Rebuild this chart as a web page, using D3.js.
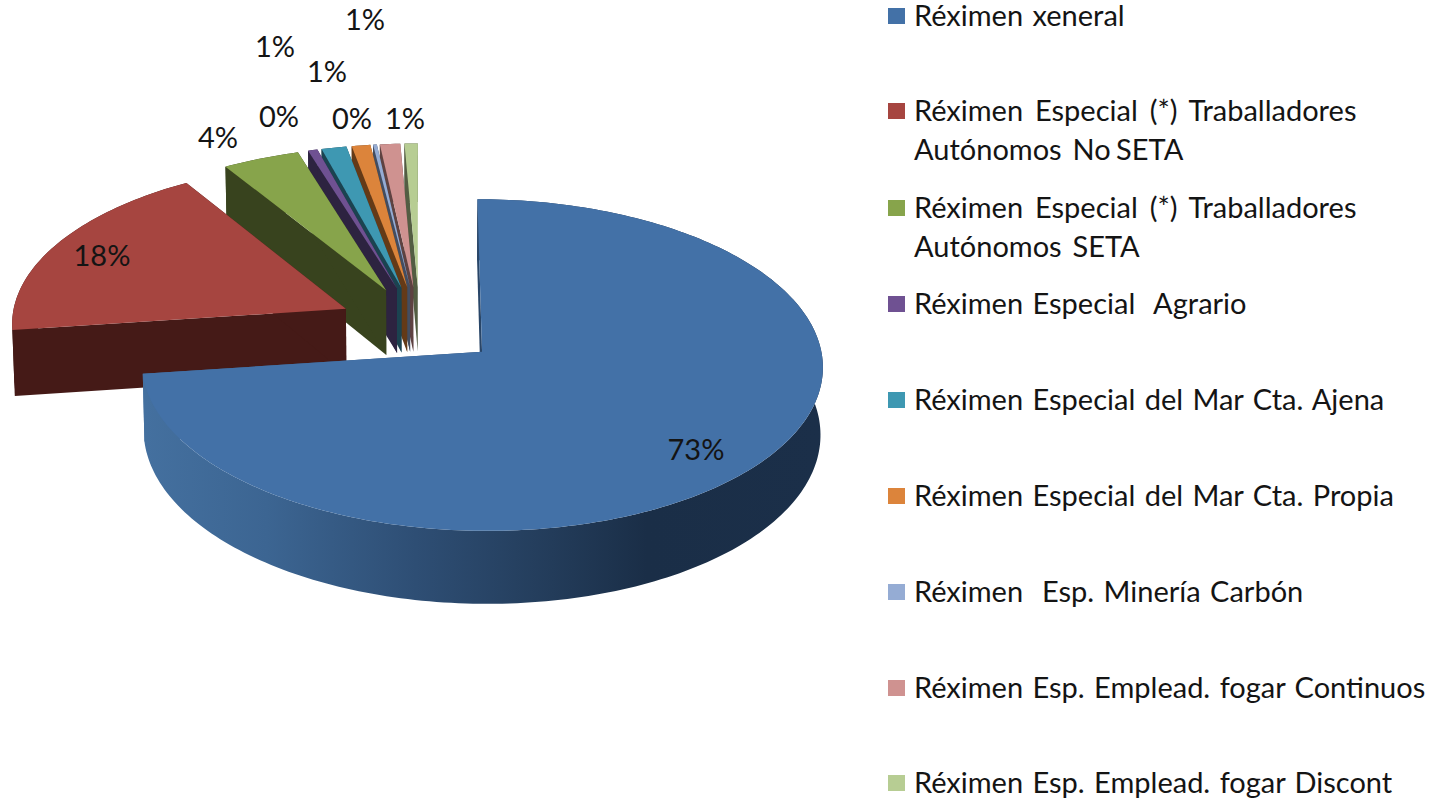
<!DOCTYPE html>
<html lang="gl">
<head>
<meta charset="utf-8">
<script src="https://cdn.jsdelivr.net/npm/d3@7/dist/d3.min.js"></script>
<style>
html,body{margin:0;padding:0;background:#fff;overflow:hidden}
svg{display:block}
text{font-family:Lato,"Open Sans",sans-serif;fill:#141414}
</style>
</head>
<body>
<svg id="chart" width="1434" height="801"></svg>
<script>
// Data
const categories = [
  ["Réximen xeneral"],
  ["Réximen Especial (*) Traballadores", "Autónomos  No SETA"],
  ["Réximen Especial (*) Traballadores", "Autónomos  SETA"],
  ["Réximen Especial  Agrario"],
  ["Réximen Especial del Mar Cta. Ajena"],
  ["Réximen Especial del Mar Cta. Propia"],
  ["Réximen  Esp. Minería Carbón"],
  ["Réximen Esp. Emplead. fogar Continuos"],
  ["Réximen Esp. Emplead. fogar Discont"]
];
const values = [72.89, 18.28, 4.06, 0.5, 1.32, 0.98, 0.2, 1.07, 0.7];
const valueLabels = ["73%", "18%", "4%", "0%", "1%", "1%", "0%", "1%", "1%"];

// Styles and layout
const topColors  = ["#4371a7","#a64540","#87a44b","#6f5192","#3e98b2","#dc843b","#95acd4","#cf9290","#b7cd93"];
const wallColors = ["#1b2f49","#451a17","#38431e","#2d2340","#1b4350","#643a17","#434d60","#5e4241","#535d42"];
const labelSpots = [[696,453],[102,259],[218,141],[279,120],[275,50],[327,75],[352,122],[365,23],[405,122]];
const legendRows = [16,111,208,304,400,496,592,688,783];

const svg = d3.select("#chart");

// Pie plane: perspective projection of a tilted, exploded pie
const cx = 419.5, cy = 325.5, R = 335, K = 160.6, P = 0.079, EXPLODE = 0.245, DEPTH = 66;
const sx = d3.scaleLinear().domain([0, 1]).range([cx, cx + R]);
const sy = d3.scaleLinear().domain([0, 1]).range([cy, cy + K]);
function project(X, Y) {
  const w = 1 - P * Y;
  return [sx(X / w), sy(Y / w)];
}
function lower(p, Y) {
  return [cx + (p[0] - cx) * 0.994, p[1] + DEPTH + 6 * Y];
}

const arcs = d3.pie().sort(null).value(d => d)(values);
const line = d3.line();

const defs = svg.append("defs");
const grad = defs.append("linearGradient").attr("id", "blueWall")
  .attr("gradientUnits", "userSpaceOnUse").attr("x1", 145).attr("x2", 823).attr("y1", 0).attr("y2", 0);
[[0,"#44709f"],[0.18,"#3c6592"],[0.4,"#2e4e74"],[0.6,"#233c5a"],[0.74,"#1a2e47"],[1,"#1b2f49"]]
  .forEach(s => grad.append("stop").attr("offset", s[0]).attr("stop-color", s[1]));

function geometry(a) {
  const mid = (a.startAngle + a.endAngle) / 2;
  const ox = EXPLODE * Math.sin(mid), oy = -EXPLODE * Math.cos(mid);
  const steps = Math.max(2, Math.ceil((a.endAngle - a.startAngle) / 0.02));
  const angle = d3.scaleLinear().domain([0, steps]).range([a.startAngle, a.endAngle]);
  const rim = d3.range(steps + 1).map(i => {
    const t = angle(i);
    return {X: ox + Math.sin(t), Y: oy - Math.cos(t)};
  });
  return {apex: {X: ox, Y: oy}, rim};
}

// Back slices first, the large front slice last
const order = d3.range(1, values.length).reverse().concat(0);
const gSlices = svg.append("g");
order.forEach(i => {
  const geo = geometry(arcs[i]);
  const g = gSlices.append("g");
  const wallFill = i === 0 ? "url(#blueWall)" : wallColors[i];
  const apexT = project(geo.apex.X, geo.apex.Y);
  const apexB = lower(apexT, geo.apex.Y);
  const rimT = geo.rim.map(p => project(p.X, p.Y));
  const rimB = geo.rim.map((p, j) => lower(rimT[j], p.Y));
  const first = 0, last = rimT.length - 1;
  // outer wall
  g.append("path").attr("d", line(rimT.concat(rimB.slice().reverse())) + "Z").attr("fill", wallFill);
  // radial walls
  g.append("path").attr("d", line([apexT, rimT[first], rimB[first], apexB]) + "Z").attr("fill", wallFill);
  g.append("path").attr("d", line([apexT, rimT[last], rimB[last], apexB]) + "Z").attr("fill", wallFill);
  // top face
  g.append("path").attr("d", line([apexT].concat(rimT)) + "Z").attr("fill", topColors[i]);
});

// Value labels
svg.append("g").selectAll("text").data(valueLabels).join("text")
  .attr("x", (d, i) => labelSpots[i][0])
  .attr("y", (d, i) => labelSpots[i][1])
  .attr("text-anchor", "middle").attr("dominant-baseline", "middle")
  .attr("font-size", 29)
  .text(d => d);

// Legend
const legend = svg.append("g").selectAll("g").data(categories).join("g")
  .attr("transform", (d, i) => `translate(0,${legendRows[i]})`);
legend.append("rect").attr("x", 888).attr("y", -8).attr("width", 17).attr("height", 16)
  .attr("fill", (d, i) => topColors[i]);
legend.each(function (d) {
  d3.select(this).selectAll("text").data(d).join("text")
    .attr("x", 914)
    .attr("y", (t, j) => 3 + j * 38.5)
    .attr("dominant-baseline", "middle")
    .attr("font-size", 29)
    .style("white-space", "pre")
    .style("word-spacing", (t, j) => j === 1 ? "-2px" : (t.includes("(*)") ? "4.5px" : "2px"))
    .text(t => t);
});
</script>
</body>
</html>
